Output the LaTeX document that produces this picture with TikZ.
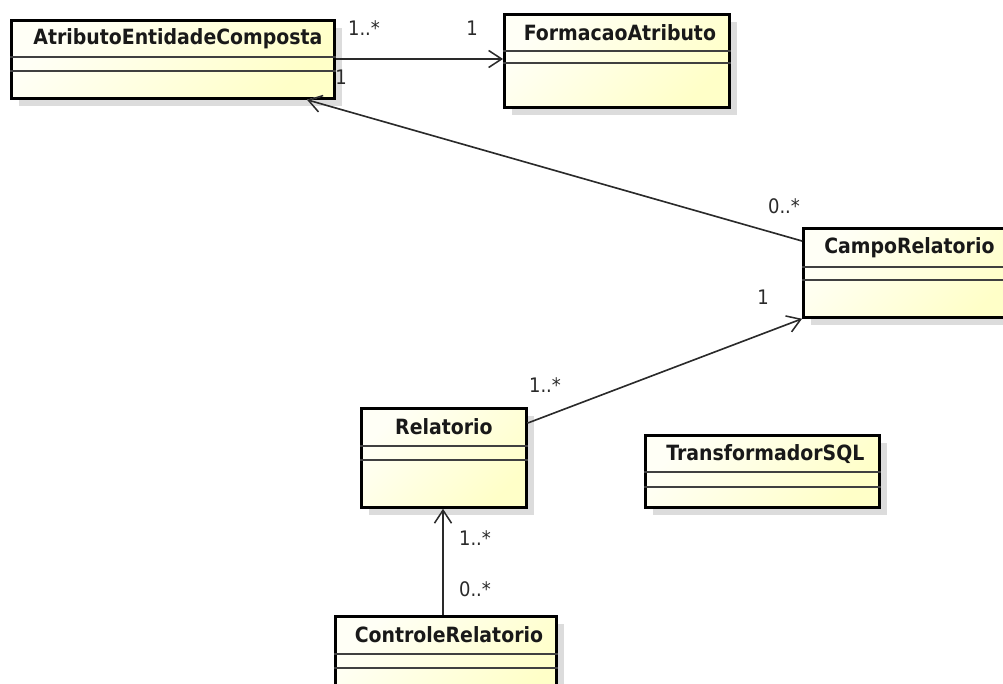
\documentclass[tikz,border=0pt]{standalone}
\usepackage{fontspec}
\setmainfont{DejaVu Sans Condensed}
\usetikzlibrary{arrows.meta,calc,shadows}

\definecolor{classtop}{HTML}{FFFFF6}
\definecolor{classbot}{HTML}{FFFFC8}
\definecolor{umlshadow}{HTML}{DCDCDC}
\definecolor{linkshadow}{HTML}{E2E2E2}
\definecolor{inkgray}{HTML}{2A2A2A}

\tikzset{
  umlclass/.style={rectangle, draw=black, line width=2.8pt, inner sep=0pt,
    anchor=north west, top color=classtop, bottom color=classbot, shading angle=45,
    drop shadow={shadow xshift=8pt, shadow yshift=-8pt, fill=umlshadow, opacity=1}},
  classname/.style={font=\fontsize{21}{23}\selectfont\bfseries, text=black!90, inner sep=0pt},
  compartment/.style={line width=1.3pt, draw=black!75},
  assoc/.style={line width=1.6pt, draw=inkgray, -{Straight Barb[length=13pt,width=17pt,line width=1.5pt]}},
  assocshadow/.style={line width=1.4pt, draw=linkshadow, -{Straight Barb[length=13pt,width=17pt,line width=1.3pt]}},
  mult/.style={font=\fontsize{20}{22}\selectfont, text=inkgray, inner sep=0pt}
}

\begin{document}
\begin{tikzpicture}[x=1pt,y=-1pt]
  \useasboundingbox (0,0) rectangle (1003,684);
  \clip (0,0) rectangle (1003,684);

  % class boxes
  \node[umlclass, minimum width=323pt, minimum height=78pt] (aec) at (10,19) {};
  \node[umlclass, minimum width=225pt, minimum height=93pt] (fa) at (503,13) {};
  \node[umlclass, minimum width=212pt, minimum height=89pt] (cr) at (802,227) {};
  \node[umlclass, minimum width=165pt, minimum height=99pt] (rel) at (360,407) {};
  \node[umlclass, minimum width=221pt, minimum height=90pt] (ctl) at (334,615) {};
  \node[umlclass, minimum width=234pt, minimum height=72pt] (tsql) at (644,434) {};

  % class names
  \node[classname] (aec-name) at ($(aec.north)+(5,20)$) {AtributoEntidadeComposta};
  \node[classname] (fa-name) at ($(fa.north)+(3,20)$) {FormacaoAtributo};
  \node[classname] (cr-name) at ($(cr.north)+(0,21)$) {CampoRelatorio};
  \node[classname] (rel-name) at ($(rel.north)+(0,20)$) {Relatorio};
  \node[classname] (ctl-name) at ($(ctl.north)+(3,20)$) {ControleRelatorio};
  \node[classname] (tsql-name) at ($(tsql.north)+(3,20)$) {TransformadorSQL};

  % attribute and operation compartments
  \draw[compartment] (aec.west |- 0,57) -- (aec.east |- 0,57);
  \draw[compartment] (aec.west |- 0,71) -- (aec.east |- 0,71);
  \draw[compartment] (fa.west |- 0,51) -- (fa.east |- 0,51);
  \draw[compartment] (fa.west |- 0,63) -- (fa.east |- 0,63);
  \draw[compartment] (cr.west |- 0,267) -- (cr.east |- 0,267);
  \draw[compartment] (cr.west |- 0,280) -- (cr.east |- 0,280);
  \draw[compartment] (rel.west |- 0,446) -- (rel.east |- 0,446);
  \draw[compartment] (rel.west |- 0,460) -- (rel.east |- 0,460);
  \draw[compartment] (ctl.west |- 0,654) -- (ctl.east |- 0,654);
  \draw[compartment] (ctl.west |- 0,668) -- (ctl.east |- 0,668);
  \draw[compartment] (tsql.west |- 0,472) -- (tsql.east |- 0,472);
  \draw[compartment] (tsql.west |- 0,487) -- (tsql.east |- 0,487);

  % association end points
  \coordinate (aec-r) at (aec.east |- 0,59);
  \coordinate (fa-l) at (fa.west |- 0,59);
  \coordinate (cr-l) at (cr.west |- 0,241);
  \coordinate (aec-b) at (aec.south -| 307,0);
  \coordinate (rel-r) at (rel.east |- 0,423);
  \coordinate (cr-bl) at (cr.south west);
  \coordinate (ctl-t) at (ctl.north -| 443,0);
  \coordinate (rel-b) at (rel.south -| 443,0);

  % faint connector shadows
  \begin{scope}[shift={(9,8)}]
    \draw[assocshadow] (aec-r) -- (fa-l);
    \draw[assocshadow] (cr-l) -- (aec-b);
    \draw[assocshadow] (rel-r) -- (cr-bl);
    \draw[assocshadow] (ctl-t) -- (rel-b);
  \end{scope}

  % associations
  \draw[assoc] (aec-r) -- (fa-l);
  \draw[assoc] (cr-l) -- (aec-b);
  \draw[assoc] (rel-r) -- (cr-bl);
  \draw[assoc] (ctl-t) -- (rel-b);

  % multiplicities
  \node[mult] (m1) at (364,28) {1..*};
  \node[mult] (m2) at (472,28) {1};
  \node[mult] (m3) at (341,77) {1};
  \node[mult] (m4) at (784,206) {0..*};
  \node[mult] (m5) at (763,297) {1};
  \node[mult] (m6) at (545,385) {1..*};
  \node[mult] (m7) at (475,538) {1..*};
  \node[mult] (m8) at (475,589) {0..*};
\end{tikzpicture}
\end{document}
